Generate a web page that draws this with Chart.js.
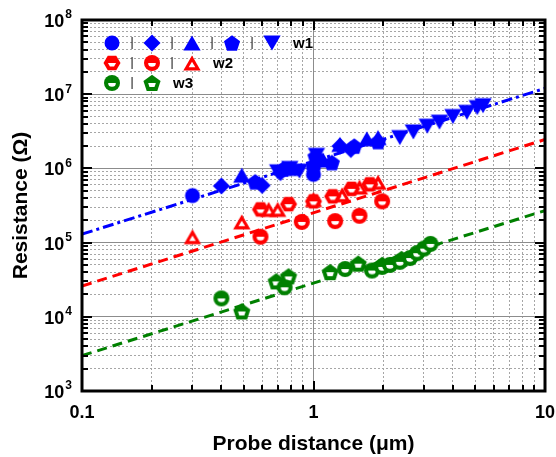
<!DOCTYPE html>
<html>
<head>
<meta charset="utf-8">
<script src="https://cdn.jsdelivr.net/npm/chart.js@4.4.1/dist/chart.umd.min.js"></script>
<style>
  html, body { margin: 0; padding: 0; background: #fff; }
</style>
</head>
<body>
<canvas id="chart" width="556" height="457"></canvas>
<script>
// Probe distance (um) vs resistance (ohm), three wafers, log-log

// w1
const W1_CIRCLE_X = [0.3, 1.0, 1.0];
const W1_CIRCLE_Y = [4.3e5, 8.3e5, 1.05e6];
const W1_DIAMOND_X = [0.4, 0.6, 0.72, 1.3, 1.45];
const W1_DIAMOND_Y = [5.8e5, 5.9e5, 8.8e5, 2.0e6, 1.8e6];
const W1_TRIUP_X = [0.49, 0.8, 1.1, 1.3, 1.7, 1.9];
const W1_TRIUP_Y = [8.1e5, 1.0e6, 1.3e6, 2.1e6, 2.5e6, 2.6e6];
const W1_PENTAGON_X = [0.56, 0.74, 1.02, 1.2, 1.5, 1.9];
const W1_PENTAGON_Y = [6.6e5, 9.8e5, 1.45e6, 1.2e6, 2.0e6, 2.3e6];
const W1_TRIDOWN_X = [0.7, 0.79, 0.87, 1.03, 2.36, 2.7, 3.1, 3.5, 4.0, 4.6, 5.1, 5.4];
const W1_TRIDOWN_Y = [9.0e5, 1.0e6, 9.2e5, 1.5e6, 2.6e6, 3.1e6, 3.7e6, 4.2e6, 5.0e6, 5.7e6, 6.6e6, 7.0e6];

// w2
const W2_HEXAGON_X = [0.59, 0.78, 1.0, 1.21, 1.46, 1.75];
const W2_HEXAGON_Y = [2.8e5, 3.3e5, 3.6e5, 4.2e5, 5.3e5, 6.1e5];
const W2_CIRCLE_X = [0.59, 0.89, 1.24, 1.58, 1.98];
const W2_CIRCLE_Y = [1.2e5, 1.9e5, 1.95e5, 2.3e5, 3.6e5];
const W2_TRIANGLE_X = [0.3, 0.49, 0.64, 0.7, 1.0, 1.33, 1.58, 1.9];
const W2_TRIANGLE_Y = [1.2e5, 1.9e5, 2.8e5, 2.8e5, 3.8e5, 4.4e5, 5.6e5, 6.5e5];

// w3
const W3_CIRCLE_X = [0.4, 0.75, 1.37, 1.79, 1.98, 2.14, 2.36, 2.61, 2.8, 3.0, 3.2];
const W3_CIRCLE_Y = [1.77e4, 2.5e4, 4.4e4, 4.2e4, 4.7e4, 5.0e4, 5.5e4, 6.2e4, 7.2e4, 8.3e4, 9.6e4];
const W3_PENTAGON_X = [0.49, 0.69, 0.78, 1.18, 1.56, 1.98, 2.4];
const W3_PENTAGON_Y = [1.18e4, 3.0e4, 3.5e4, 4.0e4, 5.2e4, 5.0e4, 6.0e4];

// power-law fits, end points across the x range
const FIT_X = [0.1, 10];
const W1_FIT = [1.3e5, 1.2e7];
const W2_FIT = [2.6e4, 2.45e6];
const W3_FIT = [3.0e3, 2.7e5];

const X_MIN = 0.1, X_MAX = 10;
const Y_MIN = 1e3, Y_MAX = 1e8;

const BLUE = "#0000ff";
const RED = "#ff0000";
const GREEN = "#008000";
const MAJOR_GRID = "#8c8c8c";
const MINOR_GRID = "#a6a6a6";
const NONE = "rgba(0,0,0,0)";
const FONT_FAMILY = "Arial, 'Liberation Sans', sans-serif";

function isDecade(v) {
    const l = Math.log10(v);
    return Math.abs(l - Math.round(l)) < 1e-6;
}

function logTickValues(lo, hi) {
    const values = [];
    for (let e = Math.floor(Math.log10(lo)); e <= Math.ceil(Math.log10(hi)); e++) {
        for (let k = 1; k <= 9; k++) {
            const v = Number((k * Math.pow(10, e)).toPrecision(6));
            if (v >= lo * 0.999999 && v <= hi * 1.000001) {
                values.push(v);
            }
        }
    }
    return values;
}

function points(xs, ys) {
    return xs.map((x, i) => ({ x, y: ys[i] }));
}

// marker outlines
function tracePath(g, shape, cx, cy, r) {
    g.beginPath();
    if (shape === "circle") {
        g.arc(cx, cy, r, 0, Math.PI * 2);
        return;
    }
    let corners = [];
    let dy = 0;
    if (shape === "diamond") {
        corners = [-90, 0, 90, 180];
    } else if (shape === "triangle") {
        corners = [-90, 30, 150];
        dy = r / 4;
    } else if (shape === "triangleDown") {
        corners = [90, 210, 330];
        dy = -r / 4;
    } else if (shape === "pentagon") {
        corners = [-90, -18, 54, 126, 198];
        dy = r * 0.09;
    } else if (shape === "hexagon") {
        corners = [0, 60, 120, 180, 240, 300];
    }
    corners.forEach((deg, i) => {
        const a = deg * Math.PI / 180;
        const px = cx + r * Math.cos(a);
        const py = cy + dy + r * Math.sin(a);
        if (i === 0) {
            g.moveTo(px, py);
        } else {
            g.lineTo(px, py);
        }
    });
    g.closePath();
}

function makeMarker(shape, r, color, halfOpen) {
    const size = 26;
    const c = document.createElement("canvas");
    c.width = size;
    c.height = size;
    const g = c.getContext("2d");
    const mid = size / 2;
    g.fillStyle = color;
    tracePath(g, shape, mid, mid, r);
    g.fill();
    if (halfOpen) {
        g.save();
        g.fillStyle = "#fff";
        if (shape === "triangle") {
            tracePath(g, shape, mid, mid + 1.5, r * 0.38);
            g.fill();
        } else {
            tracePath(g, shape, mid, mid, r * 0.48);
            g.clip();
            g.fillRect(0, mid, size, size);
        }
        g.restore();
    }
    return c;
}

const MARKERS = {
    w1Circle: makeMarker("circle", 7.5, BLUE, false),
    w1Diamond: makeMarker("diamond", 8.5, BLUE, false),
    w1TriUp: makeMarker("triangle", 10, BLUE, false),
    w1Pentagon: makeMarker("pentagon", 8.5, BLUE, false),
    w1TriDown: makeMarker("triangleDown", 10, BLUE, false),
    w2Hexagon: makeMarker("hexagon", 8.5, RED, true),
    w2Circle: makeMarker("circle", 8, RED, true),
    w2Triangle: makeMarker("triangle", 10, RED, true),
    w3Circle: makeMarker("circle", 8, GREEN, true),
    w3Pentagon: makeMarker("pentagon", 9, GREEN, true)
};

const LEGEND_ROWS = [
    { y: 23, keys: ["w1Circle", "w1Diamond", "w1TriUp", "w1Pentagon", "w1TriDown"], label: "w1" },
    { y: 43, keys: ["w2Hexagon", "w2Circle", "w2Triangle"], label: "w2" },
    { y: 63, keys: ["w3Circle", "w3Pentagon"], label: "w3" }
];

function scatterSet(label, xs, ys, key) {
    return {
        type: "scatter",
        label,
        data: points(xs, ys),
        pointStyle: MARKERS[key],
        pointRadius: 7,
        pointHoverRadius: 7,
        order: 1
    };
}

function fitSet(label, ys, color, dash) {
    return {
        type: "line",
        label,
        data: points(FIT_X, ys),
        borderColor: color,
        borderWidth: 3,
        borderDash: dash,
        pointRadius: 0,
        fill: false,
        tension: 0,
        order: 2
    };
}

// y labels as 10 with a raised exponent
const powerLabels = {
    id: "powerLabels",
    afterDraw(chart) {
        const { ctx, chartArea: a } = chart;
        const ys = chart.scales.y;
        ctx.save();
        ctx.fillStyle = "#000";
        ctx.textBaseline = "middle";
        ys.ticks.forEach((t) => {
            if (!isDecade(t.value)) {
                return;
            }
            const py = ys.getPixelForValue(t.value);
            const exp = String(Math.round(Math.log10(t.value)));
            ctx.font = "bold 12px " + FONT_FAMILY;
            const expW = ctx.measureText(exp).width;
            const right = a.left - 10;
            ctx.textAlign = "left";
            ctx.fillText(exp, right - expW, py - 5);
            ctx.font = "bold 18px " + FONT_FAMILY;
            ctx.textAlign = "right";
            ctx.fillText("10", right - expW - 1, py + 2);
        });
        ctx.restore();
    }
};

// inward tick marks, heavy frame and the symbol key
const framePlugin = {
    id: "frameAndKey",
    afterDatasetsDraw(chart) {
        const { ctx, chartArea: a } = chart;
        const xs = chart.scales.x;
        const ys = chart.scales.y;
        ctx.save();
        ctx.strokeStyle = "#000";
        ctx.lineWidth = 2;
        ctx.beginPath();
        xs.ticks.forEach((t) => {
            const px = Math.round(xs.getPixelForValue(t.value));
            const len = isDecade(t.value) ? 10 : 6;
            ctx.moveTo(px, a.bottom);
            ctx.lineTo(px, a.bottom - len);
            ctx.moveTo(px, a.top);
            ctx.lineTo(px, a.top + len);
        });
        ys.ticks.forEach((t) => {
            const py = Math.round(ys.getPixelForValue(t.value));
            const len = isDecade(t.value) ? 10 : 6;
            ctx.moveTo(a.left, py);
            ctx.lineTo(a.left + len, py);
            ctx.moveTo(a.right, py);
            ctx.lineTo(a.right - len, py);
        });
        ctx.stroke();

        ctx.lineWidth = 3;
        ctx.strokeRect(a.left, a.top, a.right - a.left, a.bottom - a.top);

        ctx.fillStyle = "#000";
        ctx.textBaseline = "middle";
        LEGEND_ROWS.forEach((row) => {
            const cy = a.top + row.y;
            let cx = a.left + 30;
            row.keys.forEach((key, i) => {
                const m = MARKERS[key];
                ctx.drawImage(m, cx - m.width / 2, cy - m.height / 2);
                if (i < row.keys.length - 1) {
                    ctx.font = "12px " + FONT_FAMILY;
                    ctx.textAlign = "center";
                    ctx.fillText("|", cx + 20, cy);
                }
                cx += 40;
            });
            ctx.font = "bold 15px " + FONT_FAMILY;
            ctx.textAlign = "left";
            ctx.fillText(row.label, cx - 40 + 21, cy + 1);
        });
        ctx.restore();
    }
};

const chart = new Chart(document.getElementById("chart"), {
    type: "scatter",
    data: {
        datasets: [
            fitSet("w1 fit", W1_FIT, BLUE, [11, 4, 3, 4]),
            fitSet("w2 fit", W2_FIT, RED, [10, 6]),
            fitSet("w3 fit", W3_FIT, GREEN, [10, 6]),
            scatterSet("w1", W1_CIRCLE_X, W1_CIRCLE_Y, "w1Circle"),
            scatterSet("w1", W1_DIAMOND_X, W1_DIAMOND_Y, "w1Diamond"),
            scatterSet("w1", W1_TRIUP_X, W1_TRIUP_Y, "w1TriUp"),
            scatterSet("w1", W1_PENTAGON_X, W1_PENTAGON_Y, "w1Pentagon"),
            scatterSet("w1", W1_TRIDOWN_X, W1_TRIDOWN_Y, "w1TriDown"),
            scatterSet("w2", W2_HEXAGON_X, W2_HEXAGON_Y, "w2Hexagon"),
            scatterSet("w2", W2_CIRCLE_X, W2_CIRCLE_Y, "w2Circle"),
            scatterSet("w2", W2_TRIANGLE_X, W2_TRIANGLE_Y, "w2Triangle"),
            scatterSet("w3", W3_CIRCLE_X, W3_CIRCLE_Y, "w3Circle"),
            scatterSet("w3", W3_PENTAGON_X, W3_PENTAGON_Y, "w3Pentagon")
        ]
    },
    options: {
        responsive: false,
        devicePixelRatio: 1,
        animation: false,
        layout: { padding: { top: 20, right: 0, left: 0, bottom: 0 } },
        plugins: {
            legend: { display: false },
            tooltip: { enabled: false }
        },
        scales: {
            x: {
                type: "logarithmic",
                position: "bottom",
                min: X_MIN,
                max: X_MAX,
                afterBuildTicks: (s) => { s.ticks = logTickValues(X_MIN, X_MAX).map((value) => ({ value })); },
                afterFit: (s) => {
                    s.height = 66;
                    s.paddingLeft = 12;
                    s.paddingRight = 11;
                },
                grid: {
                    color: (c) => (c.tick && isDecade(c.tick.value) ? MAJOR_GRID : NONE),
                    lineWidth: 1,
                    drawTicks: false
                },
                border: { display: false },
                ticks: {
                    autoSkip: false,
                    maxRotation: 0,
                    padding: 11,
                    color: "#000",
                    font: { family: FONT_FAMILY, size: 18, weight: "bold" },
                    callback: (v) => (isDecade(v) ? String(Number(v.toPrecision(3))) : "")
                },
                title: {
                    display: true,
                    text: "Probe distance (μm)",
                    color: "#000",
                    font: { family: FONT_FAMILY, size: 21, weight: "bold" },
                    padding: { top: 0, bottom: 0 }
                }
            },
            xMinor: {
                type: "logarithmic",
                position: "top",
                min: X_MIN,
                max: X_MAX,
                afterBuildTicks: (s) => { s.ticks = logTickValues(X_MIN, X_MAX).map((value) => ({ value })); },
                afterFit: (s) => {
                    s.height = 0;
                    s.paddingLeft = 0;
                    s.paddingRight = 0;
                },
                grid: {
                    color: (c) => (c.tick && !isDecade(c.tick.value) ? MINOR_GRID : NONE),
                    lineWidth: 1,
                    drawTicks: false
                },
                border: { display: false, dash: [2, 2] },
                ticks: { display: false }
            },
            y: {
                type: "logarithmic",
                position: "left",
                min: Y_MIN,
                max: Y_MAX,
                afterBuildTicks: (s) => { s.ticks = logTickValues(Y_MIN, Y_MAX).map((value) => ({ value })); },
                afterFit: (s) => { s.width = 82; },
                grid: {
                    color: (c) => (c.tick && isDecade(c.tick.value) ? MAJOR_GRID : NONE),
                    lineWidth: 1,
                    drawTicks: false
                },
                border: { display: false },
                ticks: { display: false },
                title: {
                    display: true,
                    text: "Resistance (Ω)",
                    color: "#000",
                    font: { family: FONT_FAMILY, size: 21, weight: "bold" },
                    padding: { top: 9, bottom: 0 }
                }
            },
            yMinor: {
                type: "logarithmic",
                position: "right",
                min: Y_MIN,
                max: Y_MAX,
                afterBuildTicks: (s) => { s.ticks = logTickValues(Y_MIN, Y_MAX).map((value) => ({ value })); },
                afterFit: (s) => { s.width = 0; },
                grid: {
                    color: (c) => (c.tick && !isDecade(c.tick.value) ? MINOR_GRID : NONE),
                    lineWidth: 1,
                    drawTicks: false
                },
                border: { display: false, dash: [2, 2] },
                ticks: { display: false }
            }
        }
    },
    plugins: [framePlugin, powerLabels]
});
</script>
</body>
</html>
